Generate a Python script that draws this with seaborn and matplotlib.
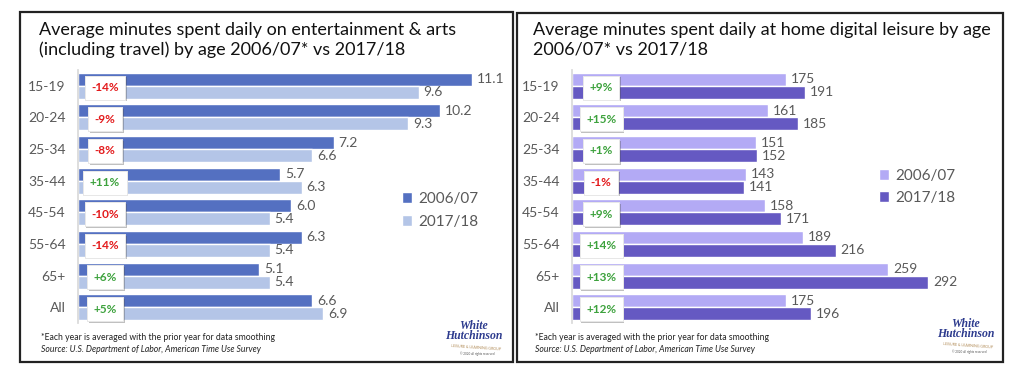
import pandas as pd
import matplotlib.pyplot as plt
import seaborn as sns
from matplotlib import patheffects
from matplotlib.patches import Rectangle

# data
ages = ['15-19', '20-24', '25-34', '35-44', '45-54', '55-64', '65+', 'All']
years = ['2006/07', '2017/18']

ent_2006 = [11.1, 10.2, 7.2, 5.7, 6.0, 6.3, 5.1, 6.6]
ent_2017 = [9.6, 9.3, 6.6, 6.3, 5.4, 5.4, 5.4, 6.9]
ent_pct = ['-14%', '-9%', '-8%', '+11%', '-10%', '-14%', '+6%', '+5%']

dig_2006 = [175, 161, 151, 143, 158, 189, 259, 175]
dig_2017 = [191, 185, 152, 141, 171, 216, 292, 196]
dig_pct = ['+9%', '+15%', '+1%', '-1%', '+9%', '+14%', '+13%', '+12%']

W, H = 1024, 372
GREY = '#595959'
RED = '#e31a1c'
GREEN = '#3da23d'


def fx(px):
    return px / W


def fy(py):
    return 1 - py / H


def long_df(a, b):
    return pd.DataFrame({
        'age': ages * 2,
        'year': [years[0]] * len(ages) + [years[1]] * len(ages),
        'value': a + b,
    })


def panel(fig, rect, df, colors, fmt, pct, xmax, box_off, legend_xy, lab_space):
    ax = fig.add_axes(rect)
    sns.barplot(data=df, x='value', y='age', hue='year', hue_order=years,
                palette=colors, orient='h', width=0.82, saturation=1,
                edgecolor='white', linewidth=1, ax=ax)
    ax.set_xlim(0, xmax)
    ax.set_ylim(7.5, -0.5)
    for c in ax.containers:
        ax.bar_label(c, fmt=fmt, padding=3.5, fontsize=10, color=GREY)
    ax.set_xlabel('')
    ax.set_ylabel('')
    ax.set_xticks([])
    for s in ['top', 'right', 'bottom']:
        ax.spines[s].set_visible(False)
    ax.spines['left'].set_color('#d9d9d9')
    ax.tick_params(axis='y', length=0, pad=9, labelsize=10, labelcolor=GREY)
    ax.set_yticks([i + 0.5 for i in range(-1, 8)], minor=True)
    ax.tick_params(axis='y', which='minor', length=4, color='#d9d9d9')

    # change boxes
    for i, p in enumerate(pct):
        t = ax.annotate(p, xy=(0, i + 0.06), xytext=(box_off, 0),
                        textcoords='offset points', ha='center', va='center',
                        fontsize=8.5, fontweight='bold',
                        color=RED if p.startswith('-') else GREEN,
                        bbox=dict(boxstyle='square,pad=0.55', fc='white', ec='#e6e6e6', lw=0.6))
        t.get_bbox_patch().set_path_effects(
            [patheffects.withSimplePatchShadow(offset=(1.2, -1.2), alpha=0.35), patheffects.Normal()])

    handles, labels = ax.get_legend_handles_labels()
    ax.legend(handles, labels, loc='upper left', bbox_to_anchor=legend_xy,
              bbox_transform=fig.transFigure, frameon=False, fontsize=11,
              handlelength=0.7, handleheight=0.7, handletextpad=0.4,
              borderpad=0, labelspacing=lab_space, labelcolor=GREY)
    return ax


def logo(fig, x, y):
    fig.text(fx(x), fy(y), 'White\nHutchinson', fontsize=8.5, style='italic',
             fontweight='bold', family='Liberation Serif', color='#2d3b8e',
             ha='center', va='top', linespacing=0.8)
    fig.text(fx(x + 2), fy(y + 24), 'LEISURE & LEARNING GROUP', fontsize=2.6,
             color='#b08a55', ha='center', va='top', rotation=-4)
    fig.text(fx(x + 3), fy(y + 31), '© 2020 all rights reserved', fontsize=2.2,
             color='#555555', ha='center', va='top')


def main():
    sns.set_theme(style='white')
    plt.rcParams['font.family'] = ['Lato', 'DejaVu Sans']

    fig = plt.figure(figsize=(W / 100, H / 100), dpi=100)
    fig.patch.set_facecolor('white')

    # panel frames
    fig.add_artist(Rectangle((fx(20), fy(362)), fx(493), 350 / H, transform=fig.transFigure,
                             fill=False, lw=1.6, ec='#222222'))
    fig.add_artist(Rectangle((fx(517), fy(362)), fx(486), 349 / H, transform=fig.transFigure,
                             fill=False, lw=1.6, ec='#222222'))

    # titles
    fig.text(fx(39), fy(22), 'Average minutes spent daily on entertainment & arts\n'
             '(including travel) by age 2006/07* vs 2017/18',
             fontsize=13, color='#111111', ha='left', va='top', linespacing=1.25)
    fig.text(fx(533), fy(22), 'Average minutes spent daily at home digital leisure by age\n'
             '2006/07* vs 2017/18',
             fontsize=13, color='#111111', ha='left', va='top', linespacing=1.25)

    panel(fig, [fx(78), fy(323), fx(426), 253 / H], long_df(ent_2006, ent_2017),
          ['#5470c1', '#b4c5e7'], '%.1f', ent_pct, 12, 19.5,
          (fx(394), fy(184)), 0.62)
    panel(fig, [fx(572), fy(323), fx(427), 253 / H], long_df(dig_2006, dig_2017),
          ['#b3aaf5', '#6559c2'], '%.0f', dig_pct, 350, 21,
          (fx(871), fy(161)), 0.55)

    # footnotes
    for x in (41, 535):
        fig.text(fx(x), fy(340), '*Each year is averaged with the prior year for data smoothing',
                 fontsize=6.2, color='#222222', ha='left', va='baseline')
        fig.text(fx(x), fy(352), 'Source: U.S. Department of Labor, American Time Use Survey',
                 fontsize=6.2, color='#222222', style='italic', ha='left', va='baseline')

    logo(fig, 474, 320)
    logo(fig, 966, 318)

    fig.savefig('out.png', dpi=100)
    plt.close(fig)


if __name__ == '__main__':
    main()
